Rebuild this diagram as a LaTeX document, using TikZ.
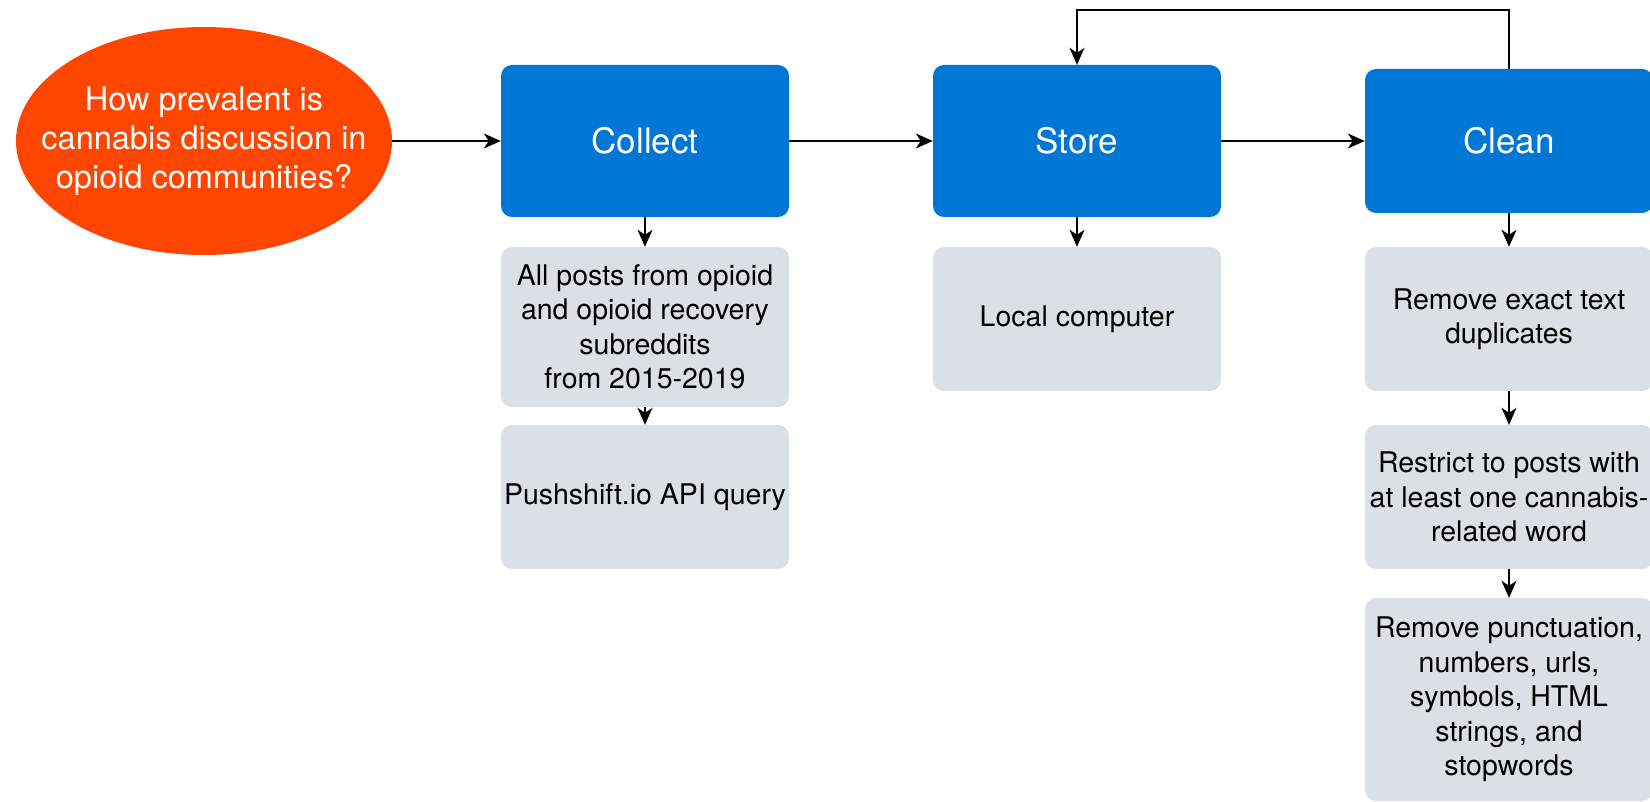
\documentclass[tikz,border=0pt]{standalone}
\usepackage{fontspec}
\setmainfont{TeX Gyre Heros}
\usetikzlibrary{arrows.meta,shapes.geometric}
\definecolor{qred}{HTML}{FF4500}
\definecolor{stepblue}{HTML}{0077D4}
\definecolor{detgray}{HTML}{DBE0E7}
\tikzset{
  qnode/.style={ellipse,fill=qred,minimum width=376pt,minimum height=228pt,inner sep=0pt},
  qtext/.style={text=white,inner sep=0pt,align=center,font=\fontsize{32.5}{39}\selectfont},
  stepbox/.style={rectangle,rounded corners=11pt,fill=stepblue,text=white,minimum width=288pt,minimum height=152pt,inner sep=0pt,align=center,font=\fontsize{35}{42}\selectfont},
  detbox/.style={rectangle,rounded corners=11pt,fill=detgray,text=black,minimum width=288pt,minimum height=144pt,inner sep=0pt,align=center,font=\fontsize{28.5}{34.5}\selectfont},
  conn/.style={draw=black,line width=1.6pt,-{Stealth[length=17pt,width=15pt,inset=5pt]}}
}
\begin{document}
\begin{tikzpicture}[x=1pt,y=-1pt]
\useasboundingbox (0,0) rectangle (1650,802);
\node[qnode] (q) at (204,141) {};
\node[qtext] (qt) at (q.center) {How prevalent is\\cannabis discussion in\\opioid communities?};
\node[stepbox] (collect) at (645,141) {Collect};
\node[stepbox] (store) at (1077,141) {Store};
\node[stepbox,minimum height=144pt] (clean) at (1509,141) {Clean};
\node[detbox,minimum height=160pt] (cd1) at (645,327) {All posts from opioid\\and opioid recovery\\subreddits\\from 2015-2019};
\node[detbox] (cd2) at (645,497) {Pushshift.io API query};
\node[detbox] (sd1) at (1077,319) {Local computer};
\node[detbox] (kd1) at (1509,319) {Remove exact text\\duplicates};
\node[detbox] (kd2) at (1509,497) {Restrict to posts with\\at least one cannabis-\\related word};
\node[detbox,minimum height=203pt] (kd3) at (1509,699.5) {Remove punctuation,\\numbers, urls,\\symbols, HTML\\strings, and\\stopwords};
\coordinate (fb) at (1293,10);
\draw[conn] (q) -- (collect);
\draw[conn] (collect) -- (store);
\draw[conn] (store) -- (clean);
\draw[conn] (collect) -- (cd1);
\draw[conn] (cd1) -- (cd2);
\draw[conn] (store) -- (sd1);
\draw[conn] (clean) -- (kd1);
\draw[conn] (kd1) -- (kd2);
\draw[conn] (kd2) -- (kd3);
\draw[conn] (clean.north) |- (fb) -| (store.north);
\end{tikzpicture}
\end{document}
